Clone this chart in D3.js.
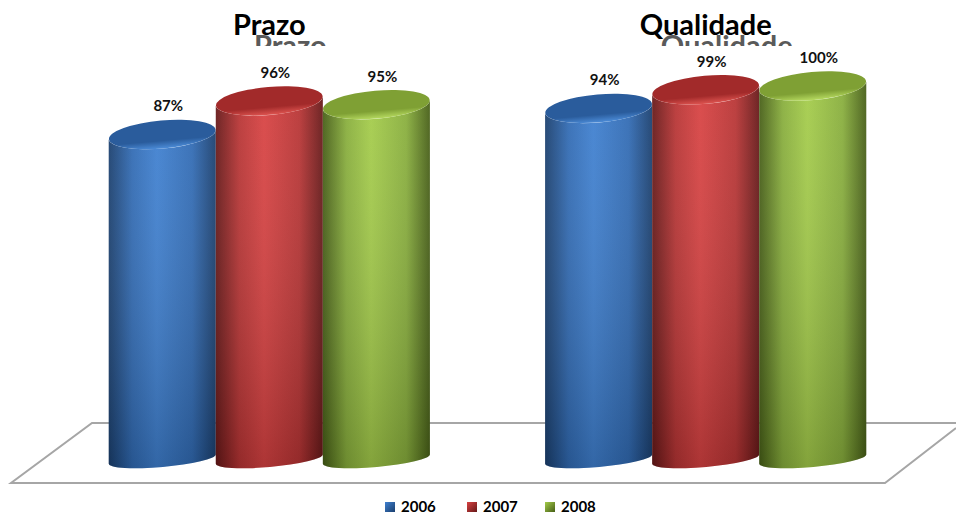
<!DOCTYPE html>
<html>
<head>
<meta charset="utf-8">
<script src="https://cdn.jsdelivr.net/npm/d3@7"></script>
<style>
  body { margin: 0; background: #fff; }
  svg { display: block; font-family: Lato, "Open Sans", sans-serif; }
</style>
</head>
<body>
<div id="chart-area"></div>
<script>
// data
var categories = ["Prazo", "Qualidade"];
var years = ["2006", "2007", "2008"];
var values2006 = [0.87, 0.94];
var values2007 = [0.96, 0.99];
var values2008 = [0.95, 1.00];
var labels2006 = ["87%", "94%"];
var labels2007 = ["96%", "99%"];
var labels2008 = ["95%", "100%"];

var seriesValues = [values2006, values2007, values2008];
var seriesLabels = [labels2006, labels2007, labels2008];

var width = 956, height = 514;

// colour sets: edge, mid, light, top
var palette = [
    { dark: "#1a3f6e", mid: "#316bb4", light: "#3f80d0", top: "#2a5c9c", rim: "#4c8cd8" },
    { dark: "#661818", mid: "#b83434", light: "#d84242", top: "#a22a2a", rim: "#de5450" },
    { dark: "#465e16", mid: "#88ae3c", light: "#a4cc4a", top: "#7fa034", rim: "#b6da60" }
];

var svg = d3.select("#chart-area")
    .append("svg")
    .attr("width", width)
    .attr("height", height);

var defs = svg.append("defs");

palette.forEach(function (c, i) {
    var g = defs.append("linearGradient").attr("id", "body" + i)
        .attr("x1", "0").attr("x2", "1").attr("y1", "0").attr("y2", "0");
    g.append("stop").attr("offset", "0%").attr("stop-color", c.dark);
    g.append("stop").attr("offset", "22%").attr("stop-color", c.mid);
    g.append("stop").attr("offset", "45%").attr("stop-color", c.light);
    g.append("stop").attr("offset", "78%").attr("stop-color", c.mid);
    g.append("stop").attr("offset", "100%").attr("stop-color", c.dark);

    var t = defs.append("linearGradient").attr("id", "top" + i)
        .attr("x1", "0").attr("x2", "0").attr("y1", "0").attr("y2", "1");
    t.append("stop").attr("offset", "0%").attr("stop-color", c.top);
    t.append("stop").attr("offset", "72%").attr("stop-color", c.top);
    t.append("stop").attr("offset", "100%").attr("stop-color", c.rim);

    var l = defs.append("linearGradient").attr("id", "leg" + i)
        .attr("x1", "0").attr("x2", "1").attr("y1", "0").attr("y2", "1");
    l.append("stop").attr("offset", "0%").attr("stop-color", c.light);
    l.append("stop").attr("offset", "100%").attr("stop-color", c.dark);
});

var shade = defs.append("linearGradient").attr("id", "shade")
    .attr("x1", "0").attr("x2", "0").attr("y1", "0").attr("y2", "1");
shade.append("stop").attr("offset", "0%").attr("stop-color", "#fff").attr("stop-opacity", 0.06);
shade.append("stop").attr("offset", "100%").attr("stop-color", "#000").attr("stop-opacity", 0.2);

defs.append("clipPath").attr("id", "ghostClip")
    .append("rect").attr("x", 0).attr("y", 0).attr("width", width).attr("height", 46);

// scales
var x0 = d3.scaleBand()
    .domain(categories)
    .range([52, 923])
    .paddingInner(0.264)
    .paddingOuter(0.13);

var x1 = d3.scaleBand()
    .domain(years)
    .range([0, x0.bandwidth()])
    .padding(0);

var y = d3.scaleLinear()
    .domain([0, 1])
    .range([459, 86]);

// floor
var floor = svg.append("g").attr("stroke", "#a6a6a6").attr("stroke-width", 2).attr("fill", "none");
floor.append("path").attr("d", "M956,423 L92,423 L11,483 L885,483 L956,428");

// titles (with the clipped shadow copy behind)
categories.forEach(function (c) {
    var cx = x0(c) + x0.bandwidth() / 2;
    svg.append("text")
        .attr("clip-path", "url(#ghostClip)")
        .attr("x", cx + 21)
        .attr("y", 56)
        .attr("text-anchor", "middle")
        .attr("font-size", "29px")
        .attr("font-weight", "bold")
        .attr("fill", "#5a5a5a")
        .text(c);
    svg.append("text")
        .attr("x", cx)
        .attr("y", 35)
        .attr("text-anchor", "middle")
        .attr("font-size", "29px")
        .attr("font-weight", "bold")
        .attr("fill", "#000")
        .text(c);
});

// cylinders
var tilt = -5 * Math.PI / 180;
var ryTop = 14, ryBot = 8;

categories.forEach(function (c, ci) {
    years.forEach(function (yr, si) {
        var v = seriesValues[si][ci];
        var xl = x0(c) + x1(yr);
        var w = x1.bandwidth();
        var rx = w / 2;
        var cx = xl + rx;
        var yt = y(v), yb = y(0);
        var dy = rx * Math.sin(tilt);

        var body = "M" + xl + "," + (yt - dy) +
            " L" + xl + "," + (yb - dy) +
            " A" + rx + "," + ryBot + " -5 0 0 " + (xl + w) + "," + (yb + dy) +
            " L" + (xl + w) + "," + (yt + dy) +
            " A" + rx + "," + ryTop + " -5 0 1 " + xl + "," + (yt - dy) + " Z";

        var g = svg.append("g");
        g.append("path").attr("d", body).attr("fill", "url(#body" + si + ")");
        g.append("path").attr("d", body).attr("fill", "url(#shade)");
        g.append("ellipse")
            .attr("cx", cx).attr("cy", yt)
            .attr("rx", rx).attr("ry", ryTop)
            .attr("transform", "rotate(-5," + cx + "," + yt + ")")
            .attr("fill", "url(#top" + si + ")");

        svg.append("text")
            .attr("x", cx + 6)
            .attr("y", yt - 23)
            .attr("text-anchor", "middle")
            .attr("font-size", "15px")
            .attr("font-weight", "bold")
            .attr("fill", "#111")
            .text(seriesLabels[si][ci]);
    });
});

// legend
var legendX = [385, 467, 545];
years.forEach(function (yr, i) {
    svg.append("rect")
        .attr("x", legendX[i]).attr("y", 502)
        .attr("width", 10).attr("height", 10)
        .attr("fill", "url(#leg" + i + ")");
    svg.append("text")
        .attr("x", legendX[i] + 16)
        .attr("y", 512)
        .attr("font-size", "15px")
        .attr("font-weight", "bold")
        .attr("fill", "#000")
        .text(yr);
});
</script>
</body>
</html>
